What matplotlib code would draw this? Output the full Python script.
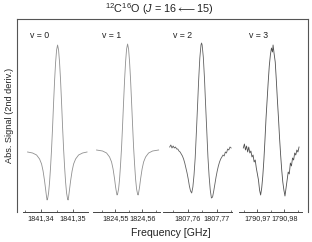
import numpy as np
import matplotlib
matplotlib.use('Agg')
import matplotlib.pyplot as plt
from matplotlib.ticker import MultipleLocator, FuncFormatter

plt.rcParams['font.family'] = ['Liberation Sans', 'DejaVu Sans']
plt.rcParams['mathtext.fontset'] = 'custom'
plt.rcParams['mathtext.rm'] = 'Liberation Sans'
plt.rcParams['mathtext.it'] = 'Liberation Sans:italic'

#-----------------------------------------------------------------------------------------------------------------------
# Data (frequency offsets in MHz from line centre, signal in arb. units)
labels = ['v = 0', 'v = 1', 'v = 2', 'v = 3']
centers = [1841.3453, 1824.5546, 1807.7647, 1790.9757]          # GHz
xlims = [(1841.3345, 1841.3548), (1824.5418, 1824.5666),
         (1807.7514, 1807.7752), (1790.9633, 1790.9866)]

off0 = [-9.38, -7.81, -6.56, -5.63, -5.0, -4.53, -4.06, -3.75, -3.44, -3.28, -3.13, -2.81, -2.5, -2.19,
        -1.88, -1.56, -1.25, -0.94, -0.63, -0.31, 0.0, 0.31, 0.63, 0.94, 1.25, 1.56, 1.88, 2.19, 2.5,
        2.81, 3.13, 3.28, 3.44, 3.75, 4.06, 4.53, 5.0, 5.63, 6.56, 7.81, 9.2]
sig0 = [0, -1, -3, -7, -12, -19, -29, -37, -45, -48, -47, -41, -30, -15,
        3, 25, 49, 71, 89, 102, 107, 102, 89, 71, 49, 25, 3, -15, -30,
        -41, -47, -48, -45, -37, -29, -19, -12, -7, -3, -1, 0]

off1 = [-11.5, -9.26, -7.78, -6.67, -5.93, -5.37, -4.81, -4.44, -4.07, -3.89, -3.70, -3.33, -2.96, -2.59,
        -2.22, -1.85, -1.48, -1.11, -0.74, -0.37, 0.0, 0.37, 0.74, 1.11, 1.48, 1.85, 2.22, 2.59, 2.96,
        3.33, 3.70, 3.89, 4.07, 4.44, 4.81, 5.37, 5.93, 6.67, 7.78, 9.26, 11.5]
sig1 = [2, 1, -1, -5, -10, -17, -27, -35, -41, -43, -42, -37, -27, -12,
        5, 27, 50, 72, 90, 103, 108, 103, 90, 72, 50, 27, 5, -12, -27,
        -37, -42, -43, -41, -35, -27, -17, -10, -5, -1, 1, 2]

off2 = [-11.0, -10.6, -10.2, -9.8, -9.4, -9.0, -8.6, -8.2, -7.8, -7.4, -7.0, -6.6, -6.2, -5.8, -5.4,
        -5.0, -4.6, -4.2, -3.8, -3.4, -3.0, -2.6, -2.2, -1.8, -1.4, -1.0, -0.6, -0.2, 0.0, 0.2, 0.6,
        1.0, 1.4, 1.8, 2.2, 2.6, 3.0, 3.4, 3.8, 4.2, 4.6, 5.0, 5.4, 5.8, 6.2, 6.6, 7.0, 7.4, 7.8,
        8.2, 8.6, 9.0, 9.4, 9.8, 10.2]
sig2 = [5, 7, 4, 6, 4, 5, 3, 3, 1, 0, -2, -4, -7, -11, -16,
        -21, -27, -34, -39, -41, -35, -23, -6, 19, 45, 72, 94, 107, 109, 107, 95,
        74, 47, 21, -5, -24, -38, -46, -45, -39, -32, -25, -19, -14, -10, -7, -5, -3, -4,
        0, -1, 3, 2, 5, 4]

off3 = [-10.8, -10.4, -10.0, -9.6, -9.2, -8.8, -8.4, -8.0, -7.6, -7.2, -6.8, -6.4, -6.0, -5.6, -5.2,
        -4.8, -4.4, -4.0, -3.6, -3.2, -2.8, -2.4, -2.0, -1.6, -1.2, -0.8, -0.4, 0.0, 0.2, 0.6, 1.0,
        1.4, 1.8, 2.2, 2.6, 3.0, 3.4, 3.8, 4.2, 4.6, 5.0, 5.4, 5.8, 6.2, 6.6, 7.0, 7.4, 7.8, 8.2,
        8.6, 9.0, 9.4, 9.8]
sig3 = [4, 8, 2, 6, 0, 5, -1, 1, -5, -3, -10, -8, -16, -22, -28,
        -38, -43, -36, -24, -8, 12, 34, 52, 70, 86, 97, 104, 100, 107, 98, 90,
        72, 52, 34, 14, -3, -18, -30, -38, -44, -36, -28, -20, -22, -11, -14, -6, -8, -1,
        -3, 2, 0, 5]

offsets = [off0, off1, off2, off3]
signals = [sig0, sig1, sig2, sig3]
line_colors = ['#909090', '#909090', '#606060', '#505050']

#-----------------------------------------------------------------------------------------------------------------------
# Layout (figure fractions)
W, H = 312, 242
frame_px = (17, 19, 308, 212)
panel_px = [(23, 88), (93, 160), (163, 232), (239, 302)]
label_px = [30, 102, 173, 249]
ylim = (-60, 133)

fig = plt.figure(figsize=(W / 100, H / 100), dpi=100)

l, t, r, b = frame_px
frame = fig.add_axes([l / W, 1 - b / H, (r - l) / W, (b - t) / H])
frame.set_xticks([])
frame.set_yticks([])
frame.patch.set_alpha(0)
frame.spines['bottom'].set_visible(False)
for s in ['left', 'top', 'right']:
    frame.spines[s].set_color('#555555')
    frame.spines[s].set_linewidth(0.8)
frame.set_ylabel('Abs. Signal (2nd deriv.)', fontsize=6.6, color='#222222', labelpad=2)


def comma_fmt(v, pos):
    return f'{v:.2f}'.replace('.', ',')


for i in range(4):
    x0, x1 = panel_px[i]
    ax = fig.add_axes([x0 / W, 1 - b / H, (x1 - x0) / W, (b - t) / H])
    ax.patch.set_alpha(0)
    freq = [centers[i] + o / 1000 for o in offsets[i]]
    ax.plot(freq, signals[i], color=line_colors[i], lw=0.6)
    ax.set_xlim(*xlims[i])
    ax.set_ylim(*ylim)
    for s in ['left', 'top', 'right']:
        ax.spines[s].set_visible(False)
    ax.spines['bottom'].set_color('#444444')
    ax.spines['bottom'].set_linewidth(0.7)
    ax.set_yticks([])
    ax.xaxis.set_major_locator(MultipleLocator(0.01))
    ax.xaxis.set_minor_locator(MultipleLocator(0.005))
    ax.xaxis.set_major_formatter(FuncFormatter(comma_fmt))
    ax.tick_params(axis='x', which='major', direction='in', length=2.4, width=0.6,
                   color='#444444', labelsize=5.2, labelcolor='#222222', pad=2.5)
    ax.tick_params(axis='x', which='minor', direction='in', length=1.2, width=0.5, color='#444444')
    fig.text(label_px[i] / W, 1 - 35 / H, labels[i], fontsize=6.3, color='#222222',
             ha='left', va='center')

fig.text(159 / W, 1 - 9 / H, r'$^{12}$C$^{16}$O ($J$ = 16$\longleftarrow$15)', fontsize=7.8,
         color='#222222', ha='center', va='center')
fig.text(171 / W, 1 - 233 / H, 'Frequency [GHz]', fontsize=7.6, color='#222222',
         ha='center', va='center')

fig.savefig('out.png', dpi=100)
